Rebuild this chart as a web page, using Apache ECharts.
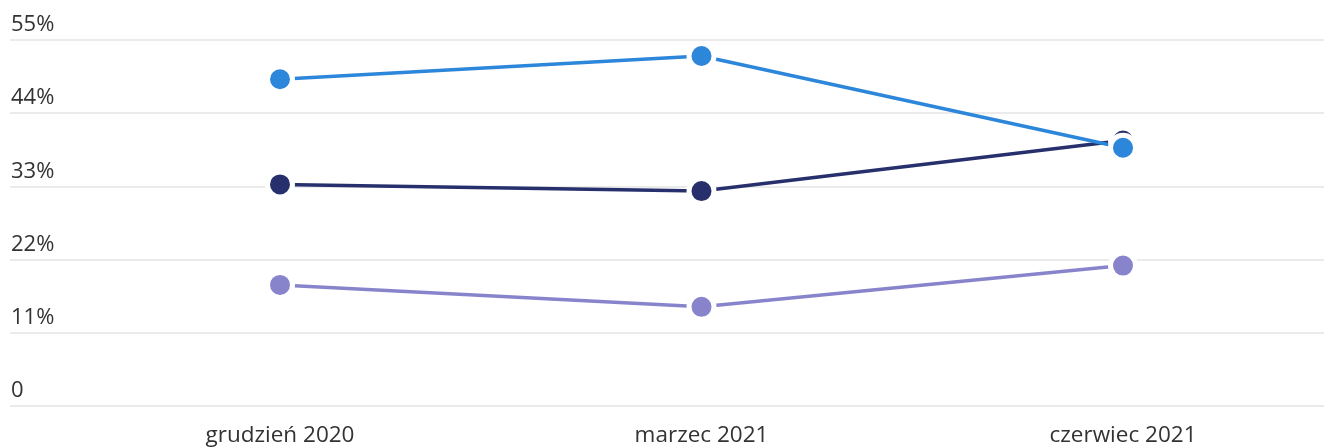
<!DOCTYPE html>
<html><head><meta charset="utf-8">
<script src="https://cdn.jsdelivr.net/npm/echarts@6/dist/echarts.min.js"></script>
<style>html,body{margin:0;padding:0;background:#fff}#c{width:1324px;height:448px}</style>
</head><body><div id="c"></div>
<script>
const categories = ['grudzień 2020', 'marzec 2021', 'czerwiec 2021'];
const navyValues = [33.3, 32.3, 39.9];
const blueValues = [49.1, 52.6, 38.8];
const purpleValues = [18.2, 14.9, 21.1];
const yTicks = [0, 11, 22, 33, 44, 55];

const chart = echarts.init(document.getElementById('c'));
const lineSeries = (name, data, color) => ({
  name, type: 'line', data, xAxisIndex: 1, yAxisIndex: 1,
  symbol: 'circle', symbolSize: 25,
  lineStyle: { color, width: 3.5 },
  itemStyle: { color, borderColor: '#fff', borderWidth: 5 },
  emphasis: { disabled: true }
});
chart.setOption({
  animation: false,
  textStyle: { fontFamily: 'Open Sans' },
  grid: [
    { left: 10, right: 0, top: 40, bottom: 42 },
    { left: 280, right: 201, top: 40, bottom: 42 }
  ],
  xAxis: [
    { type: 'category', gridIndex: 0, data: categories, show: false },
    { type: 'category', gridIndex: 1, data: categories, boundaryGap: false,
      axisLine: { show: false }, axisTick: { show: false },
      axisLabel: { color: '#333', fontSize: 22.5, margin: 18, interval: 0 } }
  ],
  yAxis: [
    { type: 'value', gridIndex: 0, min: 0, max: 55, interval: 11,
      axisLine: { show: false }, axisTick: { show: false },
      splitLine: { lineStyle: { color: '#e4e4e4', width: 1.5 } },
      axisLabel: { inside: true, margin: 1, verticalAlign: 'bottom', padding: [0, 0, 4, 0],
        color: '#333', fontSize: 22,
        formatter: v => yTicks.includes(v) ? (v === 0 ? '0' : v + '%') : '' } },
    { type: 'value', gridIndex: 1, min: 0, max: 55, interval: 11, show: false, splitLine: { show: false } }
  ],
  series: [
    lineSeries('purple', purpleValues, '#8884cc'),
    lineSeries('navy', navyValues, '#27306c'),
    lineSeries('blue', blueValues, '#2c86d9')
  ]
});
</script></body></html>
